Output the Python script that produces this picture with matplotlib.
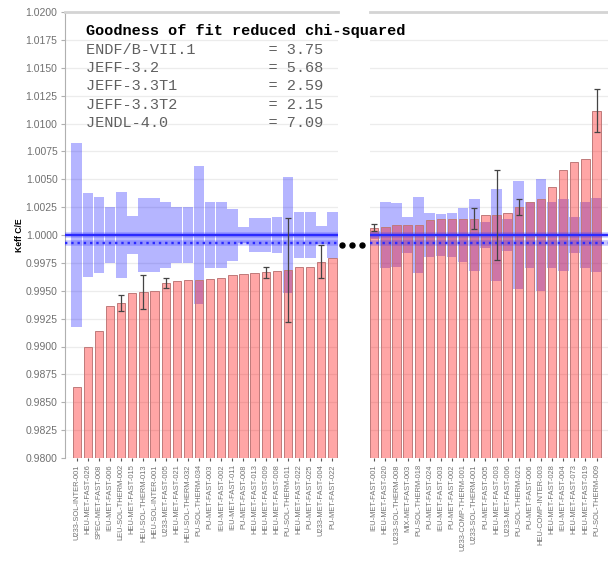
"""Keff C/E per benchmark, split in two panels (lowest / highest C/E)."""

import matplotlib

matplotlib.use("Agg")
import matplotlib.pyplot as plt
from matplotlib.lines import Line2D

# left panel: benchmarks with the lowest C/E
left_cases = [
    "U233-SOL-INTER-001", "HEU-MET-FAST-026", "SPEC-MET-FAST-008", "IEU-MET-FAST-006",
    "LEU-SOL-THERM-002", "HEU-MET-FAST-015", "HEU-SOL-THERM-013", "HEU-SOL-INTER-001",
    "U233-MET-FAST-005", "HEU-MET-FAST-021", "HEU-SOL-THERM-032", "PU-SOL-THERM-034",
    "PU-MET-FAST-003", "IEU-MET-FAST-002", "IEU-MET-FAST-011", "PU-MET-FAST-008",
    "HEU-MET-FAST-013", "HEU-MET-FAST-009", "HEU-MET-FAST-008", "PU-SOL-THERM-011",
    "HEU-MET-FAST-022", "PU-MET-FAST-025", "U233-MET-FAST-004", "PU-MET-FAST-022",
]
left_ce = [
    0.98634, 0.98998, 0.99139, 0.99363, 0.99387, 0.99477, 0.99486, 0.99498,
    0.99567, 0.99587, 0.99594, 0.99594, 0.99605, 0.99612, 0.99641, 0.99647,
    0.99656, 0.99665, 0.99677, 0.99690, 0.99713, 0.99713, 0.99762, 0.99791,
]
left_ce_err = [
    0, 0, 0, 0, 0.00073, 0, 0.00154, 0,
    0.00045, 0, 0, 0, 0, 0, 0, 0,
    0, 0.00052, 0, 0.00466, 0, 0, 0.00150, 0,
]
left_exp_unc = [
    0.00825, 0.00374, 0.00340, 0.00250, 0.00383, 0.00169, 0.00332, 0.00332,
    0.00299, 0.00254, 0.00254, 0.00619, 0.00299, 0.00299, 0.00232, 0.00068,
    0.00153, 0.00153, 0.00160, 0.00519, 0.00209, 0.00205, 0.00083, 0.00209,
]

# right panel: benchmarks with the highest C/E
right_cases = [
    "IEU-MET-FAST-001", "HEU-MET-FAST-020", "U233-SOL-THERM-008", "MIX-MET-FAST-003",
    "PU-SOL-THERM-018", "PU-MET-FAST-024", "IEU-MET-FAST-003", "PU-MET-FAST-002",
    "U233-COMP-THERM-001", "U233-SOL-THERM-001", "PU-MET-FAST-005", "HEU-MET-FAST-003",
    "U233-MET-FAST-006", "PU-SOL-THERM-021", "PU-MET-FAST-006", "HEU-COMP-INTER-003",
    "HEU-MET-FAST-028", "IEU-MET-FAST-004", "HEU-MET-FAST-073", "HEU-MET-FAST-019",
    "PU-SOL-THERM-009",
]
right_ce = [
    1.00065, 1.00072, 1.00087, 1.00093, 1.00093, 1.00134, 1.00140, 1.00146,
    1.00146, 1.00146, 1.00176, 1.00180, 1.00197, 1.00254, 1.00296, 1.00320,
    1.00430, 1.00580, 1.00657, 1.00682, 1.01115,
]
right_ce_err = [
    0.00030, 0, 0, 0, 0, 0, 0, 0,
    0, 0.00093, 0, 0.00403, 0, 0.00072, 0, 0,
    0, 0, 0, 0, 0.00193,
]
right_exp_unc = [
    0.00040, 0.00300, 0.00290, 0.00160, 0.00340, 0.00200, 0.00190, 0.00200,
    0.00240, 0.00323, 0.00120, 0.00414, 0.00140, 0.00486, 0.00300, 0.00502,
    0.00300, 0.00320, 0.00160, 0.00300, 0.00333,
]

mean_ce = 0.99925

fit_libs = ["ENDF/B-VII.1", "JEFF-3.2", "JEFF-3.3T1", "JEFF-3.3T2", "JENDL-4.0"]
fit_chi2 = [3.75, 5.68, 2.59, 2.15, 7.09]

y_min, y_max = 0.98, 1.02
y_ticks = [0.98 + 0.0025 * i for i in range(17)]

RED = (1.0, 0.0, 0.0, 0.35)
RED_EDGE = "#c07a7a"
BLUE = (0.0, 0.0, 1.0, 0.29)
LINE_BLUE = "#2a2aff"
GRAY = "#707070"


def draw_panel(ax, cases, ce, ce_err, exp_unc, xlim):
    x = list(range(len(cases)))
    ax.set_ylim(y_min, y_max)
    ax.set_xlim(*xlim)
    ax.set_yticks(y_ticks)
    for t in y_ticks:
        ax.axhline(t, color="#ececec", lw=0.9, zorder=0)

    # experimental uncertainty band around 1, then the C/E bars over it
    ax.bar(x, [2 * u for u in exp_unc], bottom=[1.0 - u for u in exp_unc],
           width=0.96, color=BLUE, linewidth=0, zorder=2)
    ax.bar(x, [v - y_min for v in ce], bottom=y_min, width=0.75, color=RED,
           edgecolor=RED_EDGE, linewidth=0.7, zorder=3)

    for val, dash in ((1.0, "-"), (mean_ce, ":")):
        ax.axhline(val, color=LINE_BLUE, lw=4, alpha=0.25, zorder=4)
        ax.axhline(val, color=LINE_BLUE, lw=1.7, ls=dash, zorder=4)

    ex = [i for i in x if ce_err[i] > 0]
    ax.errorbar(ex, [ce[i] for i in ex], yerr=[ce_err[i] for i in ex], fmt="none",
                ecolor="#444444", elinewidth=0.9, capsize=2.5, capthick=0.9, zorder=5)

    ax.set_xticks(x)
    ax.set_xticklabels(cases, rotation=90, fontsize=5.4, color=GRAY,
                       family="Liberation Sans")
    ax.tick_params(axis="x", length=2.5, width=0.8, color="#555555", pad=2)
    for side in ("right", "bottom", "left"):
        ax.spines[side].set_visible(False)
    ax.spines["top"].set_color("#d4d4d4")
    ax.spines["top"].set_linewidth(2)


fig = plt.figure(figsize=(6.08, 5.81), dpi=100, facecolor="white")
ax_l = fig.add_axes([64.5 / 608, 123 / 581, 273.5 / 608, 446 / 581])
ax_r = fig.add_axes([370 / 608, 123 / 581, 238 / 608, 446 / 581])

draw_panel(ax_l, left_cases, left_ce, left_ce_err, left_exp_unc, (-1.10, 23.5))
draw_panel(ax_r, right_cases, right_ce, right_ce_err, right_exp_unc, (-0.38, 21.03))

ax_l.spines["left"].set_visible(True)
ax_l.spines["left"].set_color("#b0b0b0")
ax_l.set_yticklabels([f"{t:.4f}" for t in y_ticks], fontsize=7.5, color=GRAY,
                     family="Liberation Sans")
ax_l.tick_params(axis="y", length=3, color="#b0b0b0", pad=2)
ax_l.set_ylabel("Keff C/E", fontsize=6.2, fontweight="bold",
                family="Liberation Sans", labelpad=1)
ax_r.tick_params(axis="y", left=False, labelleft=False)

# "..." marking the skipped benchmarks between the panels
fig.add_artist(Line2D([342 / 608, 352 / 608, 361.5 / 608], [1 - 244.5 / 581] * 3,
                      transform=fig.transFigure, ls="none", marker="o",
                      ms=3.6, color="black"))

# goodness-of-fit box
fig.text(86 / 608, 1 - 31.5 / 581, "Goodness of fit reduced chi-squared",
         family="Liberation Mono", fontweight="bold", fontsize=11, va="center")
for k, (lib, chi2) in enumerate(zip(fit_libs, fit_chi2)):
    fig.text(86 / 608, 1 - (50 + 18.2 * k) / 581, f"{lib:<20}= {chi2:.2f}",
             family="Liberation Mono", fontsize=11, color="#606060", va="center")

fig.savefig("out.png", dpi=100, facecolor="white")
